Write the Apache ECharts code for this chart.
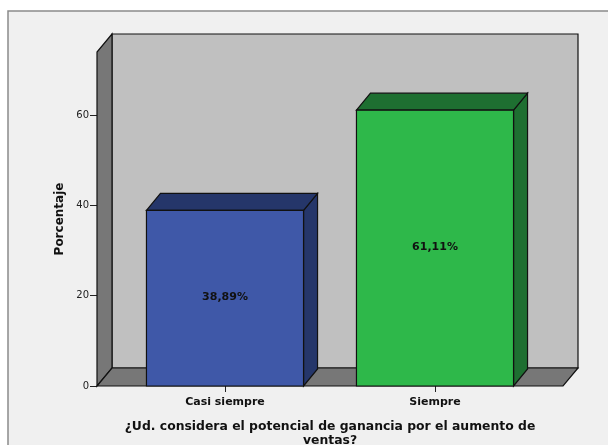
<!DOCTYPE html>
<html>
<head>
<meta charset="utf-8">
<script src="https://cdn.jsdelivr.net/npm/echarts@6/dist/echarts.min.js"></script>
<style>
  html, body { margin: 0; padding: 0; background: #ffffff; }
  #chart { width: 608px; height: 445px; }
</style>
</head>
<body>
<div id="chart"></div>
<script>
// Response categories and their percentages
const categories = ['Casi siempre', 'Siempre'];
const percentages = [38.89, 61.11];
const valueLabels = ['38,89%', '61,11%'];
const yTicks = [0, 20, 40, 60];
const xTitle = '¿Ud. considera el potencial de ganancia por el aumento de\nventas?';
const yTitle = 'Porcentaje';

const frontColors = ['#3f58a8', '#2eb84a'];
const shadeColors = ['#25366a', '#1e6f31'];

const WALL_DX = 15, WALL_DY = 18;   // depth of the box (walls / floor)
const BAR_DX = 14, BAR_DY = 17;     // depth of each bar
const SIDE_EXT = 23;                // floor extends past the category band

const chart = echarts.init(document.getElementById('chart'), null, { renderer: 'canvas' });

function renderWalls(params, api) {
  const cs = params.coordSys;
  const yb = api.coord([0, 0])[1];
  const yt = cs.y;
  const xl = cs.x - SIDE_EXT;
  const xr = cs.x + cs.width + SIDE_EXT;
  const line = { stroke: '#111', lineWidth: 1.2 };
  return {
    type: 'group',
    children: [
      { // back wall
        type: 'rect',
        shape: { x: xl + WALL_DX, y: yt - WALL_DY, width: xr - xl, height: yb - yt },
        style: Object.assign({ fill: '#c0c0c0' }, line)
      },
      { // left wall
        type: 'polygon',
        shape: { points: [[xl, yb], [xl, yt], [xl + WALL_DX, yt - WALL_DY], [xl + WALL_DX, yb - WALL_DY]] },
        style: Object.assign({ fill: '#777777' }, line)
      },
      { // floor
        type: 'polygon',
        shape: { points: [[xl, yb], [xr, yb], [xr + WALL_DX, yb - WALL_DY], [xl + WALL_DX, yb - WALL_DY]] },
        style: Object.assign({ fill: '#777777' }, line)
      }
    ]
  };
}

function renderBar(params, api) {
  const idx = api.value(0);
  const val = api.value(1);
  const base = api.coord([idx, 0]);
  const top = api.coord([idx, val]);
  const bw = api.size([1, 0])[0] * 0.748;
  const x0 = base[0] - bw / 2, x1 = base[0] + bw / 2;
  const yb = base[1], yt = top[1];
  const i = params.dataIndex;
  const line = { stroke: '#111', lineWidth: 1.2 };
  return {
    type: 'group',
    children: [
      {
        type: 'polygon',
        shape: { points: [[x1, yt], [x1 + BAR_DX, yt - BAR_DY], [x1 + BAR_DX, yb - BAR_DY], [x1, yb]] },
        style: Object.assign({ fill: shadeColors[i] }, line)
      },
      {
        type: 'polygon',
        shape: { points: [[x0, yt], [x0 + BAR_DX, yt - BAR_DY], [x1 + BAR_DX, yt - BAR_DY], [x1, yt]] },
        style: Object.assign({ fill: shadeColors[i] }, line)
      },
      {
        type: 'rect',
        shape: { x: x0, y: yt, width: bw, height: yb - yt },
        style: Object.assign({ fill: frontColors[i] }, line)
      },
      {
        type: 'text',
        style: {
          x: base[0], y: (yt + yb) / 2 - 1,
          text: valueLabels[i],
          fill: '#111',
          font: 'bold 11px "DejaVu Sans", sans-serif',
          align: 'center', verticalAlign: 'middle'
        }
      }
    ]
  };
}

chart.setOption({
  animation: false,
  backgroundColor: '#ffffff',
  graphic: [{
    type: 'rect',
    z: -10,
    shape: { x: 8, y: 11, width: 700, height: 500 },
    style: { fill: '#f0f0f0', stroke: '#8a8a8a', lineWidth: 1.5 }
  }],
  grid: { left: 120, right: 68, top: 52, bottom: 59, containLabel: false, outerBoundsMode: 'none' },
  xAxis: {
    type: 'category',
    data: categories,
    axisLine: { show: false },
    axisTick: { show: true, alignWithLabel: true, length: 6, lineStyle: { color: '#222' } },
    axisLabel: { color: '#111', fontFamily: 'DejaVu Sans', fontWeight: 'bold', fontSize: 11, margin: 11 },
    name: xTitle,
    nameLocation: 'middle',
    nameGap: 34,
    nameTextStyle: { color: '#111', fontFamily: 'DejaVu Sans', fontWeight: 'bold', fontSize: 12.4, lineHeight: 14 }
  },
  yAxis: {
    type: 'value',
    min: 0, max: 74, interval: 20,
    offset: 23,
    axisLine: { show: false },
    axisTick: { show: true, length: 7, lineStyle: { color: '#222' } },
    axisLabel: {
      color: '#222', fontFamily: 'DejaVu Sans', fontSize: 10, margin: 8, showMaxLabel: false,
      formatter: v => (yTicks.indexOf(v) >= 0 ? String(v) : '')
    },
    splitLine: { show: false },
    name: yTitle,
    nameLocation: 'middle',
    nameGap: 30,
    nameTextStyle: { color: '#111', fontFamily: 'DejaVu Sans', fontWeight: 'bold', fontSize: 12 }
  },
  series: [
    { type: 'custom', name: 'box', clip: false, z: 1, renderItem: renderWalls, data: [[0, 0]] },
    {
      type: 'custom', name: 'Porcentaje', clip: false, z: 2, renderItem: renderBar,
      data: percentages.map((v, i) => [i, v])
    }
  ]
});
</script>
</body>
</html>
